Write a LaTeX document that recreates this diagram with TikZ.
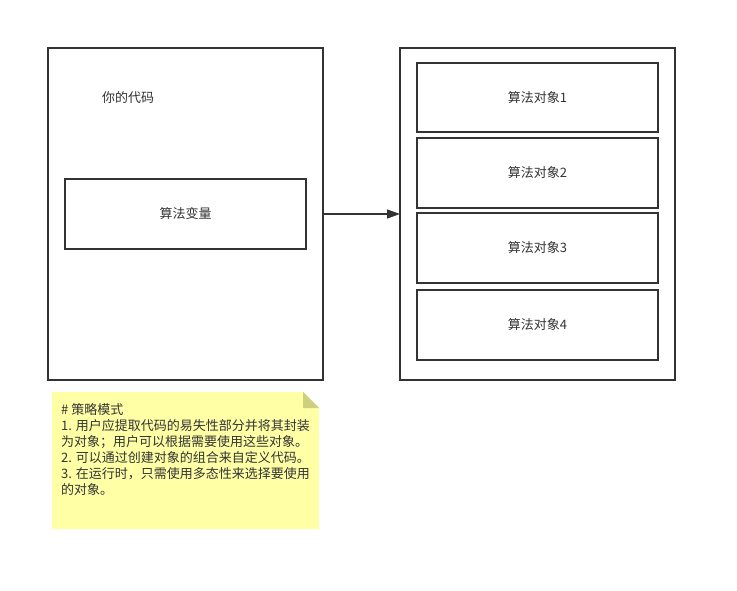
\documentclass[tikz,border=0pt]{standalone}
\usepackage{fontspec}
\setmainfont{Noto Sans CJK SC}
\usetikzlibrary{arrows.meta}
\definecolor{ink}{HTML}{333333}
\definecolor{notefill}{HTML}{FFFFA6}
\definecolor{notefold}{HTML}{CFCF80}
\tikzset{
  box/.style={draw=ink, line width=1.6pt, fill=white},
  lbl/.style={text=ink, font=\fontsize{13}{16}\selectfont, inner sep=0pt},
}
\begin{document}
\begin{tikzpicture}[x=1pt,y=-1pt]
\useasboundingbox (0,0) rectangle (737,591);
% left container
\draw[box] (48,48) rectangle (323,380);
\coordinate (Lr) at (323,214);
\node[lbl, anchor=west] (code) at (102,98) {你的代码};
\draw[box] (65,179) rectangle (306,249);
\node[lbl] (var) at (185.5,214) {算法变量};
% right container
\draw[box] (400,48) rectangle (675,380);
\coordinate (Rl) at (400,214);
\draw[box] (417,63) rectangle (658,132);
\node[lbl] (o1) at (537.5,98) {算法对象1};
\draw[box] (417,138) rectangle (658,208);
\node[lbl] (o2) at (537.5,173) {算法对象2};
\draw[box] (417,213) rectangle (658,283);
\node[lbl] (o3) at (537.5,248) {算法对象3};
\draw[box] (417,290) rectangle (658,360);
\node[lbl] (o4) at (537.5,325) {算法对象4};
% arrow
\draw[draw=ink, line width=1.3pt, -{Triangle[length=13pt,width=9pt]}] (Lr) -- (Rl);
% note
\fill[notefill] (52,392) -- (303,392) -- (319,408) -- (319,529) -- (52,529) -- cycle;
\fill[notefold] (303,392) -- (319,408) -- (303,408) -- cycle;
\node[lbl, anchor=north west, align=left] (note) at (61,403.5) {\# 策略模式\\1. 用户应提取代码的易失性部分并将其封装\\为对象；用户可以根据需要使用这些对象。\\2. 可以通过创建对象的组合来自定义代码。\\3. 在运行时，只需使用多态性来选择要使用\\的对象。};
\end{tikzpicture}
\end{document}
